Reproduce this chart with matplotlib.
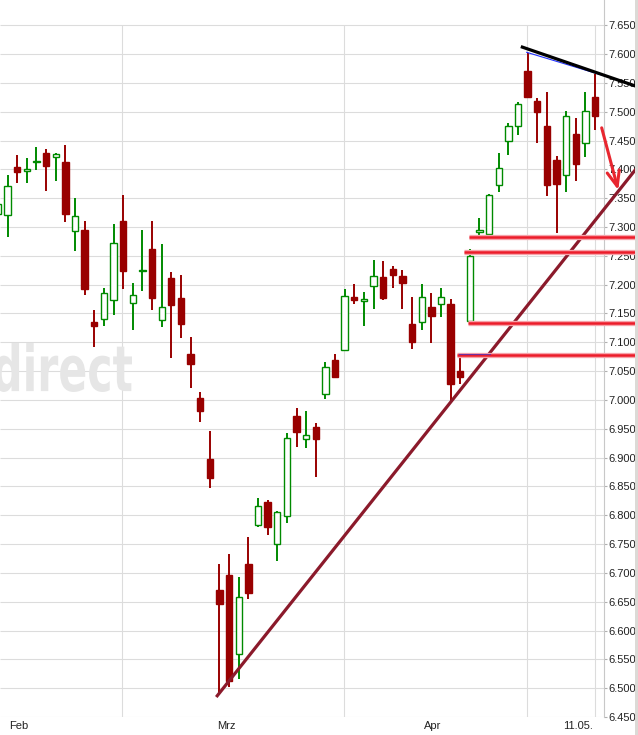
import matplotlib
matplotlib.use('Agg')
import matplotlib.pyplot as plt
from matplotlib.patches import Rectangle, PathPatch
from matplotlib.textpath import TextPath
from matplotlib.font_manager import FontProperties
from matplotlib.transforms import Affine2D, IdentityTransform

plt.rcParams['font.family'] = ['Liberation Sans', 'DejaVu Sans']

# daily candles, Feb .. 11.05.
opens  = [7.322, 7.320, 7.404, 7.397, 7.412, 7.429, 7.421, 7.412, 7.293, 7.295,
          7.136, 7.140, 7.173, 7.310, 7.169, 7.223, 7.262, 7.138, 7.212, 7.177,
          7.080, 7.003, 6.898, 6.670, 6.696, 6.559, 6.716, 6.783, 6.823, 6.750,
          6.798, 6.972, 6.932, 6.953, 7.010, 7.069, 7.086, 7.178, 7.172, 7.197,
          7.213, 7.227, 7.215, 7.132, 7.135, 7.161, 7.166, 7.166, 7.050, 7.137,
          7.292, 7.287, 7.373, 7.450, 7.475, 7.571, 7.519, 7.475, 7.416, 7.390,
          7.461, 7.445, 7.525]
highs  = [7.350, 7.390, 7.425, 7.419, 7.439, 7.435, 7.428, 7.442, 7.350, 7.310,
          7.156, 7.195, 7.305, 7.356, 7.203, 7.295, 7.310, 7.271, 7.222, 7.217,
          7.110, 7.014, 6.946, 6.715, 6.733, 6.693, 6.762, 6.830, 6.827, 6.808,
          6.942, 6.986, 6.981, 6.960, 7.066, 7.080, 7.193, 7.201, 7.187, 7.243,
          7.241, 7.232, 7.225, 7.179, 7.201, 7.186, 7.194, 7.175, 7.076, 7.262,
          7.315, 7.358, 7.428, 7.480, 7.516, 7.601, 7.523, 7.534, 7.423, 7.501,
          7.489, 7.535, 7.565]
lows   = [7.310, 7.283, 7.377, 7.376, 7.398, 7.363, 7.379, 7.309, 7.259, 7.182,
          7.092, 7.129, 7.147, 7.193, 7.121, 7.189, 7.156, 7.127, 7.072, 7.108,
          7.021, 6.962, 6.848, 6.488, 6.502, 6.516, 6.655, 6.780, 6.765, 6.720,
          6.787, 6.919, 6.916, 6.867, 7.002, 7.040, 7.086, 7.167, 7.129, 7.157,
          7.174, 7.195, 7.157, 7.089, 7.122, 7.099, 7.144, 6.995, 7.027, 7.137,
          7.279, 7.279, 7.360, 7.425, 7.460, 7.526, 7.446, 7.354, 7.290, 7.361,
          7.379, 7.422, 7.469]
closes = [7.340, 7.371, 7.396, 7.400, 7.414, 7.405, 7.426, 7.322, 7.319, 7.193,
          7.129, 7.185, 7.272, 7.223, 7.182, 7.225, 7.177, 7.161, 7.164, 7.131,
          7.063, 6.981, 6.865, 6.647, 6.513, 6.658, 6.665, 6.816, 6.780, 6.805,
          6.934, 6.945, 6.939, 6.933, 7.057, 7.040, 7.180, 7.174, 7.175, 7.215,
          7.177, 7.216, 7.203, 7.101, 7.178, 7.146, 7.178, 7.027, 7.039, 7.250,
          7.295, 7.355, 7.403, 7.475, 7.513, 7.526, 7.500, 7.373, 7.375, 7.492,
          7.410, 7.501, 7.493]

xlabels = ["Feb", "Mrz", "Apr", "11.05."]
xlabel_pos = [2.2, 23.7, 45.1, 60.2]
vgrid_pos = [12.88, 35.93, 54.93, 62.0]
yticks = [round(6.45 + 0.05 * k, 3) for k in range(25)]

# hand drawn lines on the chart (x = candle index, y = price)
trend_up = ([22.77, 66.46], [6.487, 7.405])
trend_top = ([54.45, 66.46], [7.612, 7.543])
trend_top_thin = ([54.9, 63.2], [7.603, 7.561])
support_start = [48.94, 48.42, 48.84, 47.7]
support_level = [7.283, 7.257, 7.134, 7.078]
arrow_from = (62.69, 7.472)
arrow_to = (64.41, 7.364)

RED = '#990000'
GREEN = '#008a00'

fig = plt.figure(figsize=(6.38, 7.35), dpi=100)
fig.patch.set_facecolor('white')
ax = fig.add_axes([0, 0.02435, 0.9467, 0.97565])
ax.patch.set_visible(False)

# watermark
tp = TextPath((0, 0), "direct", size=100, prop=FontProperties(family='DejaVu Sans', weight='bold'))
ext = tp.get_extents()
sx = (132 + 6) / ext.width
sy = (392 - 343) / ext.height
tr = Affine2D().translate(-ext.x0, -ext.y0).scale(sx, sy).translate(-6, 343)
wm = PathPatch(tr.transform_path(tp), facecolor='#e6e6e6', edgecolor='none',
               transform=IdentityTransform(), zorder=0.2)
fig.patches.append(wm)

xmin, xmax = 0.21, 62.93
ax.hlines(yticks, xmin, xmax, colors='#dcdcdc', lw=0.8, zorder=1)
ax.vlines(vgrid_pos, 6.45, 7.65, colors='#dcdcdc', lw=0.8, zorder=1)

bw = 0.66
for i in range(len(opens)):
    o, h, l, c = opens[i], highs[i], lows[i], closes[i]
    up = c >= o
    col = GREEN if up else RED
    ax.vlines(i, l, h, colors=col, lw=1.4, zorder=3)
    lo, hi = min(o, c), max(o, c)
    ax.add_patch(Rectangle((i - bw / 2, lo), bw, hi - lo,
                           facecolor='white' if up else RED,
                           edgecolor=col, lw=1.0, zorder=4))

# drawn lines
ax.plot(*trend_up, color='#8b1a2b', lw=2.3, clip_on=False, zorder=6)
ax.plot(*trend_top, color='black', lw=2.3, clip_on=False, zorder=6)
ax.plot(*trend_top_thin, color='#2030ff', lw=0.8, clip_on=False, zorder=5)
for x0, lvl in zip(support_start, support_level):
    ax.plot([x0, 66.46], [lvl, lvl], color='#f6a3aa', lw=3.8, clip_on=False,
            zorder=6, solid_capstyle='butt')
    ax.plot([x0, 66.46], [lvl, lvl], color='#ec1c2a', lw=1.8, clip_on=False,
            zorder=7, solid_capstyle='butt')
ax.plot([47.87, 51.09], [support_level[3] + 0.002] * 2, color='#7030a0', lw=0.8,
        zorder=8)
ax.annotate('', xy=arrow_to, xytext=arrow_from, annotation_clip=False,
            arrowprops=dict(arrowstyle='->,head_length=1.1,head_width=0.45',
                            color='#e8262f', lw=2.2, shrinkA=0, shrinkB=0),
            zorder=8)

ax.set_xlim(xmin, xmax)
ax.set_ylim(6.45, 7.6937)

for s in ['left', 'top', 'bottom']:
    ax.spines[s].set_visible(False)
ax.spines['right'].set_color('#c8c8c8')
ax.spines['right'].set_linewidth(0.8)

ax.yaxis.tick_right()
ax.set_yticks(yticks)
ax.set_yticklabels([f'{v:.3f}' for v in yticks])
ax.tick_params(axis='y', length=2.5, width=0.8, color='#b0b0b0', pad=0.6,
               labelsize=8, labelcolor='#222222')
ax.set_xticks(xlabel_pos)
ax.set_xticklabels(xlabels)
ax.tick_params(axis='x', length=0, pad=2.5, labelsize=8, labelcolor='#222222')

fig.patches.append(Rectangle((635 / 638, 0), 3 / 638, 1, transform=fig.transFigure,
                             facecolor='#dcdad6', edgecolor='none', zorder=10))

fig.savefig('out.png', dpi=100, facecolor='white')
